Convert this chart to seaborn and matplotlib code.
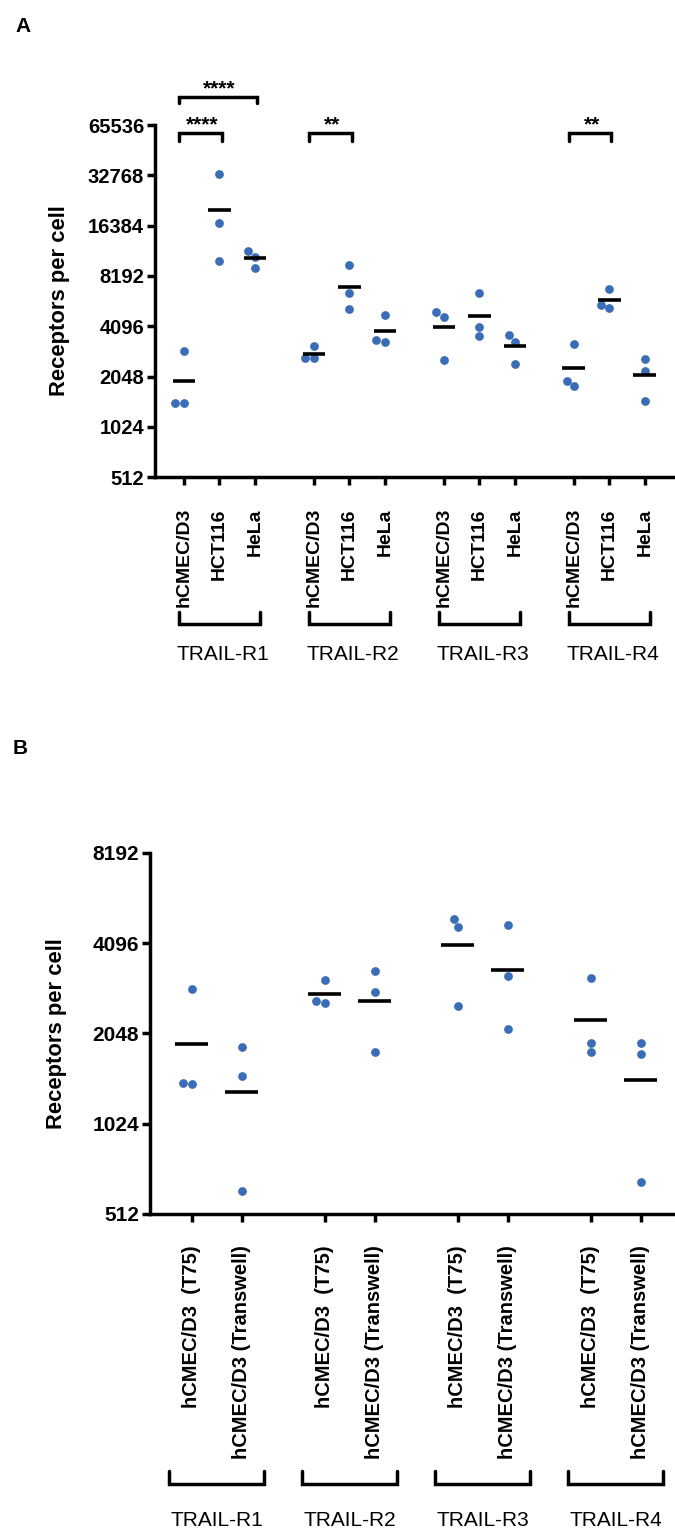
import numpy as np
import pandas as pd
import matplotlib.pyplot as plt
from matplotlib.ticker import FixedLocator, NullLocator
import seaborn as sns

# ── datos (receptores por célula) ───────────────────────────────────────────
RECEPTORS = ["TRAIL-R1", "TRAIL-R2", "TRAIL-R3", "TRAIL-R4"]

# Panel A: una lista por línea celular, tres réplicas por receptor (R1..R4)
LINES_A = ["hCMEC/D3", "HCT116", "HeLa"]
A_HCMEC = [[2930, 1414, 1414], [3140, 2630, 2630], [4950, 4660, 2570], [3200, 1790, 1930]]
A_HCT116 = [[33600, 16900, 10100], [9510, 6440, 5160], [6490, 4030, 3560], [6860, 5240, 5480]]
A_HELA = [[11500, 10700, 9080], [4770, 3300, 3380], [3620, 3300, 2420], [2610, 2200, 1470]]

# significancia: (receptor, línea 1, línea 2, etiqueta, nivel)
A_SIG = [("TRAIL-R1", "hCMEC/D3", "HCT116", "****", 0),
         ("TRAIL-R1", "hCMEC/D3", "HeLa", "****", 1),
         ("TRAIL-R2", "hCMEC/D3", "HCT116", "**", 0),
         ("TRAIL-R4", "hCMEC/D3", "HCT116", "**", 0)]

# Panel B: hCMEC/D3 cultivadas en T75 vs Transwell
LINES_B = ["hCMEC/D3  (T75)", "hCMEC/D3 (Transwell)"]
B_T75 = [[2880, 1390, 1400], [3090, 2580, 2630], [4920, 4630, 2530], [3140, 1770, 1900]]
B_TRANSWELL = [[1840, 1480, 612], [3310, 2810, 1770], [4720, 3180, 2120], [1900, 1750, 653]]

Y_TICKS_A = [512, 1024, 2048, 4096, 8192, 16384, 32768, 65536]
Y_TICKS_B = [512, 1024, 2048, 4096, 8192]

DOT = "#3a6db6"
GAP = 0.66


def build(lines, series):
    stride = len(lines) + GAP
    rows = []
    for g, rec in enumerate(RECEPTORS):
        for i, line in enumerate(lines):
            for v in series[i][g]:
                rows.append(dict(receptor=rec, line=line, pos=g * stride + i, value=v))
    return pd.DataFrame(rows)


df_a = build(LINES_A, [A_HCMEC, A_HCT116, A_HELA])
df_b = build(LINES_B, [B_T75, B_TRANSWELL])

sns.set_style("ticks")
plt.rcParams["font.family"] = ["Liberation Sans", "DejaVu Sans"]
plt.rcParams.update({"text.color": "black", "axes.labelcolor": "black",
                     "xtick.color": "black", "ytick.color": "black",
                     "axes.edgecolor": "black"})

fig = plt.figure(figsize=(6.75, 15.33), dpi=100)
ax_a = fig.add_axes([0.2296, 0.6888, 0.7704, 0.2296])
ax_b = fig.add_axes([0.2222, 0.2081, 0.7778, 0.2355])


def panel(ax, df, lines, yticks, xlim, tick_fs, half, br_pad, br_y, lab_y, lab_dx):
    sns.swarmplot(data=df, x="pos", y="value", native_scale=True, orient="x",
                  log_scale=(False, 2), color=DOT, size=6.3, linewidth=0, ax=ax)
    means = df.groupby("pos")["value"].mean()
    ax.hlines(means.values, means.index - half, means.index + half,
              color="black", lw=2.6, zorder=3)

    ax.set_ylim(yticks[0], yticks[-1])
    ax.set_xlim(*xlim)
    ax.yaxis.set_major_locator(FixedLocator(yticks))
    ax.yaxis.set_minor_locator(NullLocator())
    ax.set_yticklabels([str(t) for t in yticks], fontsize=tick_fs + 0.5, fontweight="bold")
    ticks = df.drop_duplicates("pos")
    ax.set_xticks(ticks["pos"], ticks["line"], rotation=90,
                  fontsize=tick_fs, fontweight="bold")
    ax.tick_params(axis="x", length=5.8, width=2.5, pad=16.5)
    ax.tick_params(axis="y", length=5.8, width=2.5, pad=2)
    for s in ["top", "right"]:
        ax.spines[s].set_visible(False)
    for s in ["left", "bottom"]:
        ax.spines[s].set_linewidth(2.5)
    ax.set_xlabel("")
    ax.set_ylabel("Receptors per cell", fontsize=15.8, fontweight="bold")

    # corchetes bajo las etiquetas + nombre del receptor
    tr = ax.get_xaxis_transform()
    for rec, grp in ticks.groupby("receptor", sort=False):
        x0, x1 = grp["pos"].min() - br_pad, grp["pos"].max() + br_pad
        ax.plot([x0, x0, x1, x1], [br_y[0], br_y[1], br_y[1], br_y[0]], transform=tr,
                color="black", lw=2.5, clip_on=False, solid_joinstyle="miter")
        ax.text(grp["pos"].mean() + lab_dx, lab_y, rec, transform=tr,
                ha="center", va="center", fontsize=15)


panel(ax_a, df_a, LINES_A, Y_TICKS_A, (-0.817, 13.83), 14, 0.32, 0.14,
      (-0.3835, -0.4176), -0.503, 0.1)
ax_a.yaxis.set_label_coords(-0.163, 0.5)

panel(ax_b, df_b, LINES_B, Y_TICKS_B, (-0.84, 9.66), 14.5, 0.33, 0.45,
      (-0.712, -0.748), -0.848, 0.0)
ax_b.yaxis.set_label_coords(-0.158, 0.5)

# significancia en panel A
pos_a = df_a.drop_duplicates(["receptor", "line"]).set_index(["receptor", "line"])["pos"]
tr = ax_a.get_xaxis_transform()
levels = [(0.977, 0.955), (1.080, 1.0625)]
for rec, l1, l2, lab, lev in A_SIG:
    x0, x1 = pos_a[(rec, l1)] - 0.13, pos_a[(rec, l2)] + 0.06
    top, leg = levels[lev]
    ax_a.plot([x0, x0, x1, x1], [leg, top, top, leg], transform=tr, color="black",
              lw=2.5, clip_on=False, solid_joinstyle="miter")
    ax_a.text((pos_a[(rec, l1)] + pos_a[(rec, l2)]) / 2, top + 0.008, lab, transform=tr,
              ha="center", va="baseline", fontsize=15, fontweight="bold")

fig.text(15 / 675, 1 - 17 / 1533, "A", ha="left", va="top", fontsize=15, fontweight="bold")
fig.text(13 / 675, 1 - 739 / 1533, "B", ha="left", va="top", fontsize=15, fontweight="bold")

fig.savefig("out.png", dpi=100)
